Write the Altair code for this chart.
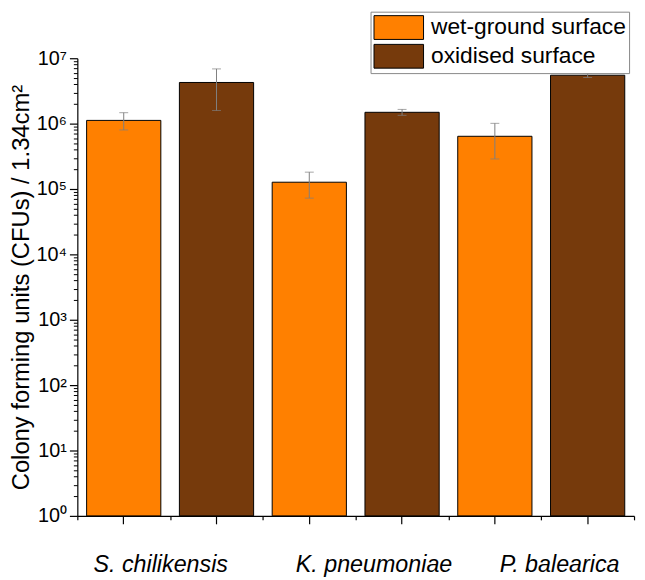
import altair as alt
import pandas as pd

groups = ["S. chilikensis", "K. pneumoniae", "P. balearica"]
surfaces = ["wet-ground surface", "oxidised surface"]
wet_vals = [1.12e6, 1.27e5, 6.4e5]
wet_lo = [8.0e5, 7.25e4, 2.88e5]
wet_hi = [1.47e6, 1.81e5, 1.01e6]
ox_vals = [4.26e6, 1.49e6, 5.5e6]
ox_lo = [1.59e6, 1.34e6, 5.08e6]
ox_hi = [6.87e6, 1.65e6, 5.9e6]
colors = ["#FF8000", "#763A0C"]
major_ticks = [1, 10, 100, 1e3, 1e4, 1e5, 1e6, 1e7]
minor_ticks = [m * 10 ** d for d in range(0, 7) for m in range(2, 10)]
slot_edges = [0, 1, 2, 3, 4, 5, 6]

rows = []
for i, g in enumerate(groups):
    rows.append(dict(group=g, surface=surfaces[0], slot=f"{g}|{surfaces[0]}",
                     value=wet_vals[i], lo=wet_lo[i], hi=wet_hi[i]))
    rows.append(dict(group=g, surface=surfaces[1], slot=f"{g}|{surfaces[1]}",
                     value=ox_vals[i], lo=ox_lo[i], hi=ox_hi[i]))
df = pd.DataFrame(rows)
slots = list(df["slot"])

FONT = "Liberation Sans"
W, H = 562, 462


def ysc():
    return alt.Scale(type="log", domain=[1, 1e7], nice=False)


def xsc():
    return alt.Scale(domain=slots, paddingInner=0, paddingOuter=0)


sup = "['\u2070','\u00b9','\u00b2','\u00b3','\u2074','\u2075','\u2076','\u2077']"

base = alt.Chart(df)
bars = base.mark_bar(width=alt.RelativeBandSize(0.8), stroke="black", strokeWidth=1,
                     opacity=1).encode(
    x=alt.X("slot:N", scale=xsc(), sort=slots,
            axis=alt.Axis(labels=False, title=None, tickSize=8, tickColor="black",
                          domainColor="black", domainWidth=1.2, tickWidth=1.2)),
    y=alt.Y("value:Q", scale=ysc(),
            axis=alt.Axis(values=major_ticks, grid=False, tickSize=8, tickColor="black",
                          tickWidth=1.2, domainColor="black", domainWidth=1.2,
                          labelExpr="'10' + " + sup + "[round(log(datum.value)/LN10)]",
                          labelFont=FONT, labelFontSize=20, labelColor="black", labelPadding=3,
                          title="Colony forming units (CFUs) / 1.34cm\u00b2",
                          titleFont=FONT, titleFontSize=24, titleFontWeight="normal",
                          titleColor="black", titlePadding=2)),
    y2=alt.Y2(datum=1),
    color=alt.Color("surface:N", scale=alt.Scale(domain=surfaces, range=colors),
                    legend=alt.Legend(title=None, orient="none", legendX=296, legendY=-47,
                                      symbolType="M-1,-0.96H3V0.96H-1Z", symbolSize=625,
                                      symbolStrokeColor="black", symbolStrokeWidth=1,
                                      symbolOpacity=1, labelLimit=400,
                                      labelFont=FONT, labelFontSize=23, labelColor="black",
                                      labelOffset=32, rowPadding=1, padding=3,
                                      strokeColor="#888888", fillColor="white")),
)
err = base.mark_rule(color="#7f7f7f", strokeWidth=1).encode(
    x=alt.X("slot:N", scale=xsc(), sort=slots, axis=None),
    y=alt.Y("lo:Q", scale=ysc(), axis=None),
    y2="hi:Q",
)
cap_hi = base.mark_tick(color="#7f7f7f", thickness=1, size=9).encode(
    x=alt.X("slot:N", scale=xsc(), sort=slots, axis=None),
    y=alt.Y("hi:Q", scale=ysc(), axis=None),
)
cap_lo = base.mark_tick(color="#7f7f7f", thickness=1, size=9).encode(
    x=alt.X("slot:N", scale=xsc(), sort=slots, axis=None),
    y=alt.Y("lo:Q", scale=ysc(), axis=None),
)

group_layer = alt.Chart(pd.DataFrame({"group": groups})).mark_point(opacity=0).encode(
    x=alt.X("group:N", sort=groups, scale=alt.Scale(domain=groups, paddingInner=0, paddingOuter=0),
            axis=alt.Axis(orient="bottom", ticks=False, domain=False, title=None, labelAngle=0,
                          labelFont=FONT, labelFontSize=23.5, labelFontStyle="italic",
                          labelColor="black", labelPadding=37,
                          labelOffset={"condition": {"test": "datum.value == 'S. chilikensis'",
                                                     "value": -10}, "value": 18})),
)
minor_x = alt.Chart(pd.DataFrame({"pos": slot_edges})).mark_point(opacity=0).encode(
    x=alt.X("pos:Q", scale=alt.Scale(domain=[0, 6], nice=False),
            axis=alt.Axis(orient="bottom", values=slot_edges, labels=False, domain=False,
                          grid=False, title=None, tickSize=4, tickColor="black", tickWidth=1.2)),
)
minor_y = alt.Chart(pd.DataFrame({"v": minor_ticks})).mark_point(opacity=0).encode(
    y=alt.Y("v:Q", scale=ysc(),
            axis=alt.Axis(orient="left", values=minor_ticks, labels=False, domain=False,
                          grid=False, title=None, tickSize=4, tickColor="black", tickWidth=1)),
)

chart = alt.layer(bars, err, cap_hi, cap_lo, group_layer, minor_x, minor_y).resolve_scale(
    x="independent", y="independent"
).properties(
    width=W, height=H, padding={"left": 2, "top": 0, "right": 0, "bottom": 0}
).configure_view(stroke=None)

chart.save("out.html", embed_options={"renderer": "svg", "actions": False})
